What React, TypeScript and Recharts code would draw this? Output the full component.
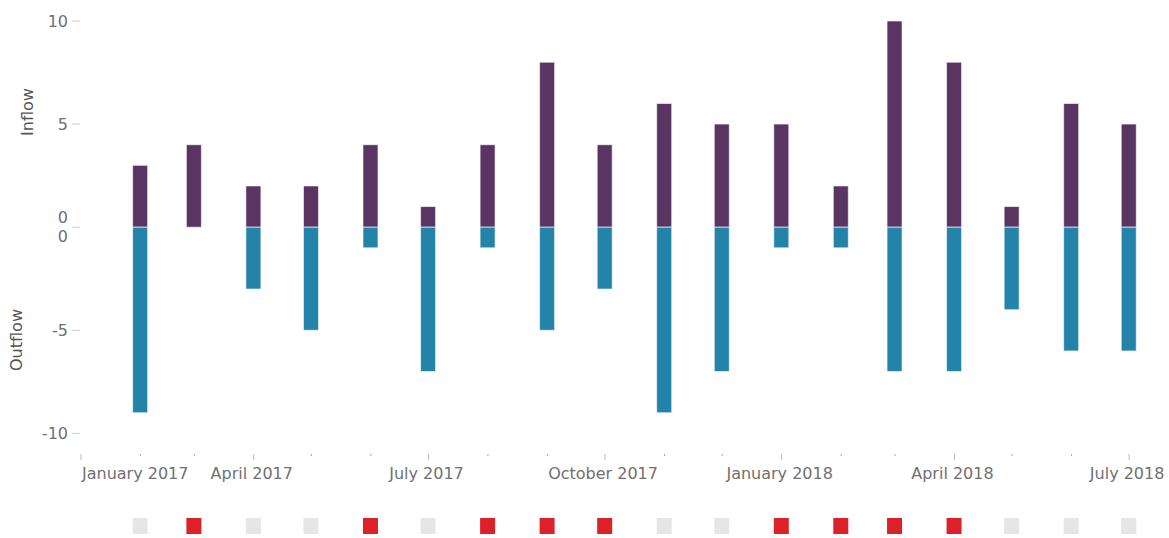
import React from "react";
import { BarChart, Bar, XAxis, YAxis, Cell } from "recharts";

// Monthly flows, one bar per month start
const months = [
  "2017-02", "2017-03", "2017-04", "2017-05", "2017-06", "2017-07",
  "2017-08", "2017-09", "2017-10", "2017-11", "2017-12", "2018-01",
  "2018-02", "2018-03", "2018-04", "2018-05", "2018-06", "2018-07",
];
const inflow = [3, 4, 2, 2, 4, 1, 4, 8, 4, 6, 5, 5, 2, 10, 8, 1, 6, 5];
const outflow = [-9, 0, -3, -5, -1, -7, -1, -5, -3, -9, -7, -1, -1, -7, -7, -4, -6, -6];
// red marker = inflow beat outflow that month
const netPositive = [
  false, true, false, false, true, false, true, true, true,
  false, false, true, true, true, true, false, false, false,
];

const tickMonths = [
  "2017-01", "2017-02", "2017-03", "2017-04", "2017-05", "2017-06", "2017-07",
  "2017-08", "2017-09", "2017-10", "2017-11", "2017-12", "2018-01", "2018-02",
  "2018-03", "2018-04", "2018-05", "2018-06", "2018-07",
];
const majorLabels: Record<string, string> = {
  "2017-01": "January 2017",
  "2017-04": "April 2017",
  "2017-07": "July 2017",
  "2017-10": "October 2017",
  "2018-01": "January 2018",
  "2018-04": "April 2018",
  "2018-07": "July 2018",
};
const yTicks = [-10, -5, 0, 5, 10];

const PURPLE = "#5a3564";
const TEAL = "#2383a8";
const RED = "#dc2128";
const GRAY = "#e6e6e6";
const FONT = "'DejaVu Sans', Verdana, sans-serif";

const toTime = (s: string) => {
  const [y, m] = s.split("-").map(Number);
  return Date.UTC(y, m - 1, 1);
};

const xDomain = [toTime("2017-01"), Date.UTC(2018, 6, 15)];
const xTicks = tickMonths.map(toTime);
const labelByTime: Record<number, string> = {};
tickMonths.forEach((m) => {
  if (majorLabels[m]) labelByTime[toTime(m)] = majorLabels[m];
});

const data = months.map((m, i) => ({
  t: toTime(m),
  inflow: inflow[i],
  outflow: outflow[i],
  positive: netPositive[i],
  marker: 1,
}));

const margin = { top: 21, right: 13, left: 0, bottom: 0 };

function YTick(props: any) {
  const { y, payload } = props;
  const v = payload.value;
  const text = (dy: number, key: string) => (
    <text
      key={key}
      x={68}
      y={y + dy}
      textAnchor="end"
      dominantBaseline="central"
      fill="#707070"
      fontSize={16}
      fontFamily={FONT}
    >
      {v}
    </text>
  );
  return (
    <g>
      <line x1={72} x2={80} y1={y} y2={y} stroke="#ccc" />
      {v === 0 ? [text(-10, "a"), text(9, "b")] : text(0, "a")}
    </g>
  );
}

function XTick(props: any) {
  const { x, y, payload, index } = props;
  const label = labelByTime[payload.value];
  if (!label) {
    return <line x1={x} x2={x} y1={y} y2={y + 2} stroke="#aaa" />;
  }
  return (
    <g>
      <line x1={x} x2={x} y1={y} y2={y + 6} stroke="#bbb" />
      <text
        x={index === 0 ? x + 1 : x - 2}
        y={y + 25}
        textAnchor={index === 0 ? "start" : "middle"}
        fill="#707070"
        fontSize={16}
        fontFamily={FONT}
      >
        {label}
      </text>
    </g>
  );
}

const axisTitle: React.CSSProperties = {
  position: "absolute",
  transform: "translate(-50%, -50%) rotate(-90deg)",
  whiteSpace: "nowrap",
  fontFamily: FONT,
  fontSize: 16,
  color: "#555",
};

export default function App() {
  return (
    <div style={{ position: "absolute", left: 0, top: 0, width: 1169, height: 538, background: "#fff" }}>
      <BarChart width={1169} height={500} data={data} margin={margin} stackOffset="sign">
        <XAxis
          dataKey="t"
          type="number"
          domain={xDomain}
          ticks={xTicks}
          axisLine={false}
          tickLine={false}
          tickSize={0}
          tickMargin={0}
          height={46}
          interval={0}
          tick={<XTick />}
        />
        <YAxis
          type="number"
          domain={[-11, 10]}
          ticks={yTicks}
          width={81}
          axisLine={false}
          tickLine={false}
          interval={0}
          tick={<YTick />}
        />
        <Bar
          dataKey="inflow"
          stackId="flow"
          barSize={15}
          fill={PURPLE}
          stroke="#ffffff"
          strokeOpacity={0.6}
          isAnimationActive={false}
        />
        <Bar
          dataKey="outflow"
          stackId="flow"
          barSize={15}
          fill={TEAL}
          stroke="#ffffff"
          strokeOpacity={0.6}
          isAnimationActive={false}
        />
      </BarChart>

      <div style={{ position: "absolute", left: 0, top: 500 }}>
        <BarChart width={1169} height={38} data={data} margin={{ top: 18, right: 13, left: 81, bottom: 4 }}>
          <XAxis dataKey="t" type="number" domain={xDomain} hide />
          <YAxis type="number" domain={[0, 1]} hide />
          <Bar dataKey="marker" barSize={15} isAnimationActive={false}>
            {data.map((d, i) => (
              <Cell key={i} fill={d.positive ? RED : GRAY} />
            ))}
          </Bar>
        </BarChart>
      </div>

      <div style={{ ...axisTitle, left: 27, top: 112 }}>Inflow</div>
      <div style={{ ...axisTitle, left: 16, top: 340 }}>Outflow</div>
    </div>
  );
}
